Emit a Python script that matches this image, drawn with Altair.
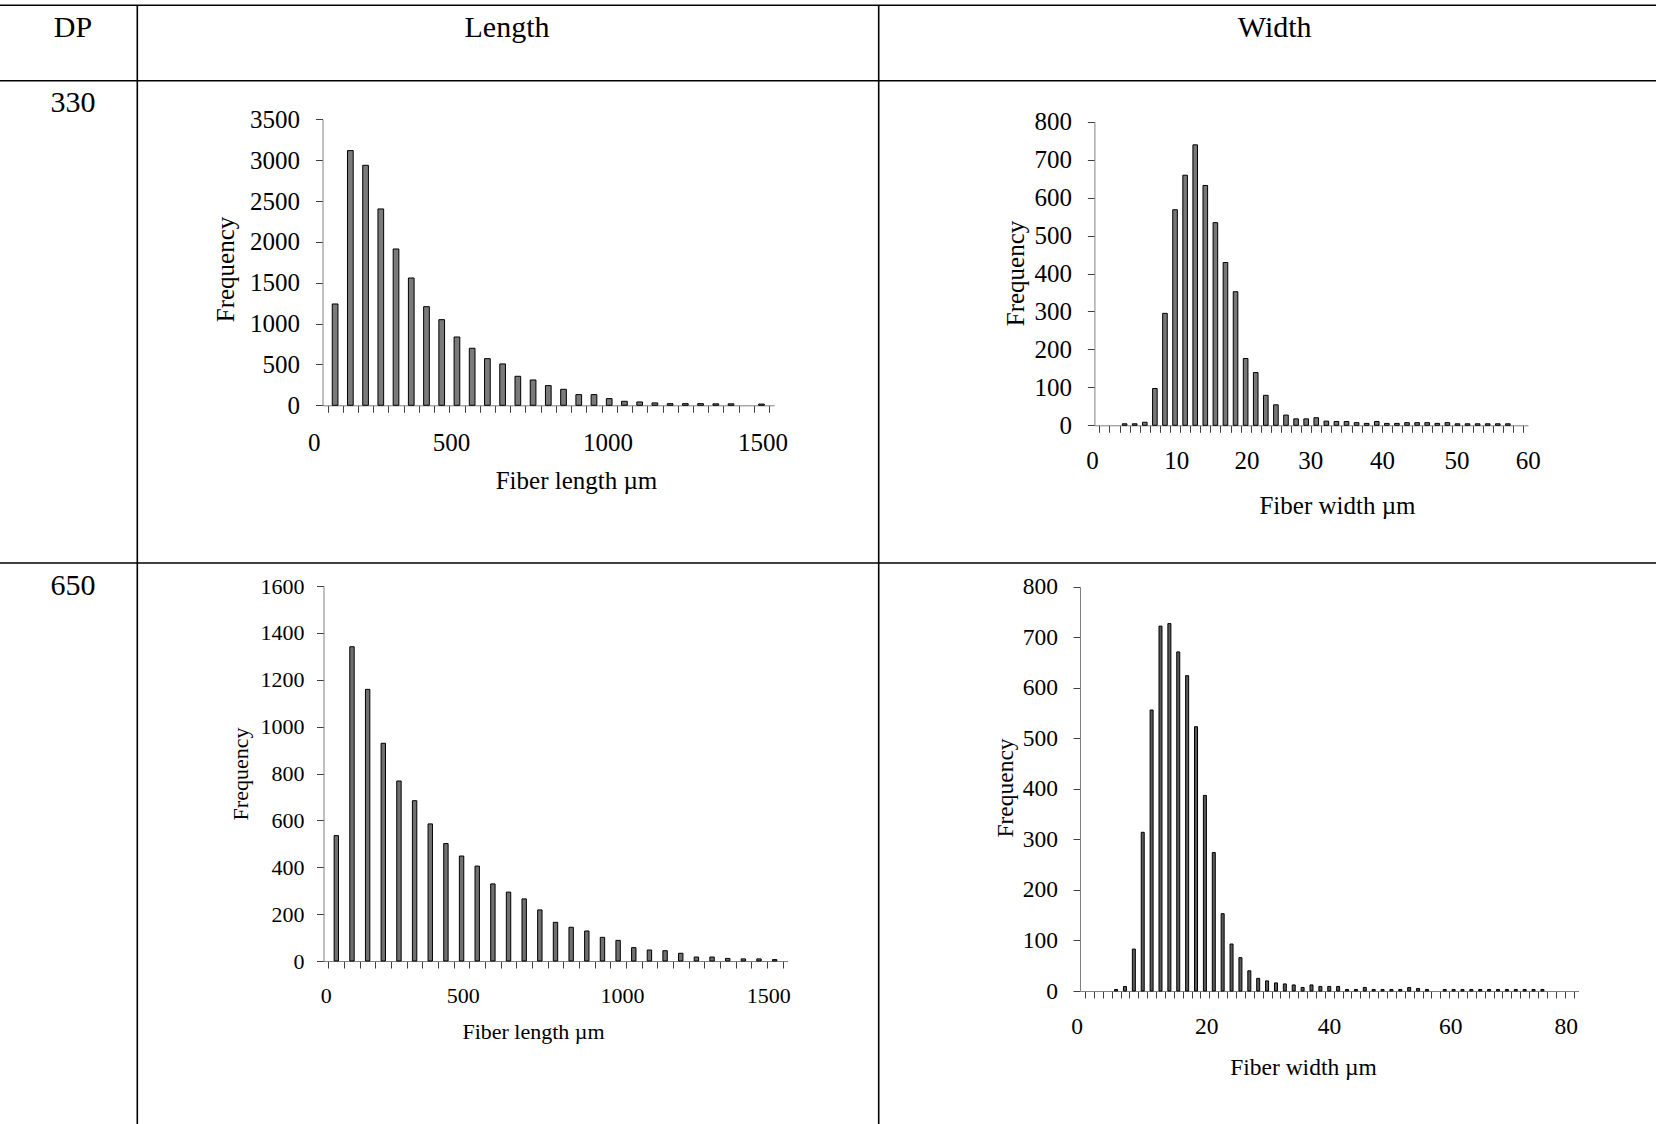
import altair as alt
import pandas as pd

W, H = 1656, 1124
FONT = "Liberation Serif"

# ---------------- data ----------------
# DP 330, fiber length: 50 µm classes
dp330_len_freq = [1240, 3117, 2937, 2403, 1913, 1558, 1207, 1048, 836, 698,
                  571, 506, 355, 310, 241, 196, 131, 131, 82, 49,
                  41, 29, 20, 20, 20, 18, 18, 0, 15]
# DP 330, fiber width
dp330_wid_freq = [0, 0, 4, 4, 8, 97, 295, 568, 659, 739,
                  632, 534, 429, 352, 176, 139, 79, 54, 27, 17,
                  17, 20, 11, 10, 10, 7, 5, 10, 5, 5,
                  7, 7, 7, 5, 7, 4, 4, 4, 4, 4,
                  4, 0]
# DP 650, fiber length
dp650_len_freq = [535, 1341, 1159, 929, 768, 684, 585, 501, 448, 405,
                  329, 294, 265, 218, 165, 144, 128, 101, 88, 57,
                  47, 44, 33, 17, 17, 11, 9, 9, 6]
# DP 650, fiber width
dp650_wid_freq = [0, 0, 0, 3, 9, 83, 314, 556, 722, 727,
                  671, 624, 523, 387, 274, 153, 93, 66, 40, 25,
                  20, 16, 14, 12, 7, 12, 9, 9, 9, 3,
                  3, 7, 3, 3, 3, 3, 7, 5, 3, 0,
                  3, 3, 3, 3, 3, 3, 3, 3, 3, 3,
                  3, 3, 0, 0, 0]

len_ticks = [0, 500, 1000, 1500]
wid330_ticks = [0, 10, 20, 30, 40, 50, 60]
wid650_ticks = [0, 20, 40, 60, 80]

table_headers = ["DP", "Length", "Width"]
dp_values = ["330", "650"]

# ---------------- helpers ----------------
DOMAIN_COLOR = "#808080"
TICK_COLOR = "#404040"


def histogram(freq, x_rng, y_rng, y_vals, lab_vals, lab_pos, lab_pad,
              x_title, title_x, title_y, y_title_x, y_title_y,
              fs, bar_w, fill, ylab_pad):
    n = len(freq)
    df = pd.DataFrame({"bin": list(range(n)), "freq": freq})
    df["mid"] = df["bin"] + 0.5
    off_bottom = y_rng[0] - H
    off_left = -x_rng[0]

    bars = alt.Chart(df).transform_filter("datum.freq > 0").mark_bar(
        width=bar_w, fill=fill, stroke="black", strokeWidth=1
    ).encode(
        x=alt.X("mid:Q",
                scale=alt.Scale(domain=[0, n], range=list(x_rng), nice=False, zero=False),
                axis=alt.Axis(orient="bottom", offset=off_bottom,
                              values=list(range(n + 1)), labels=False, title=None,
                              grid=False, domainColor=DOMAIN_COLOR, tickColor=TICK_COLOR,
                              tickSize=7, domainWidth=1, tickWidth=1)),
        y=alt.Y("freq:Q",
                scale=alt.Scale(domain=[0, y_vals[-1]], range=list(y_rng), nice=False, zero=True),
                axis=alt.Axis(orient="left", offset=off_left, values=y_vals, format="d",
                              grid=False, domainColor=DOMAIN_COLOR, tickColor=TICK_COLOR,
                              tickSize=7, domainWidth=1, tickWidth=1,
                              labelFont=FONT, labelFontSize=fs, labelColor="black",
                              labelPadding=ylab_pad,
                              title="Frequency", titleFont=FONT, titleFontSize=fs,
                              titleFontWeight="normal", titleColor="black",
                              titleAngle=270, titleAlign="center",
                              titleBaseline="alphabetic",
                              titleX=y_title_x, titleY=y_title_y)),
    )

    # tick labels sit where the reference prints them (piecewise-linear label scale)
    ldf = pd.DataFrame({"v": lab_vals})
    labels = alt.Chart(ldf).mark_point(opacity=0).encode(
        x=alt.X("v:Q",
                scale=alt.Scale(domain=list(lab_vals), range=list(lab_pos),
                                nice=False, zero=False),
                axis=alt.Axis(orient="bottom", offset=off_bottom, values=lab_vals,
                              format="d", domain=False, ticks=False, tickSize=0, grid=False,
                              labelFont=FONT, labelFontSize=fs, labelColor="black",
                              labelPadding=lab_pad, labelBaseline="alphabetic",
                              labelFlush=False, labelOverlap=False,
                              title=x_title, titleFont=FONT, titleFontSize=fs,
                              titleFontWeight="normal", titleColor="black",
                              titleAlign="center", titleBaseline="alphabetic",
                              titleX=title_x, titleY=title_y)),
        y=alt.value(0),
    )
    return alt.layer(bars, labels).resolve_scale(x="independent").resolve_axis(x="independent")


h1 = histogram(dp330_len_freq, (322.5, 774.1), (405.3, 119.3),
               [0, 500, 1000, 1500, 2000, 2500, 3000, 3500],
               len_ticks, (313.8, 450.9, 607.6, 762.6), 45,
               "Fiber length µm", 576, 83, -89, 269,
               25, 5.7, "#7a7a7a", 16)

h2 = histogram(dp330_wid_freq, (1094.4, 1528.0), (425.3, 121.7),
               [0, 100, 200, 300, 400, 500, 600, 700, 800],
               wid330_ticks, (1092.0, 1176.2, 1246.5, 1310.2, 1382.0, 1456.4, 1527.7), 43,
               "Fiber width µm", 1337, 88, -71, 273,
               25, 4.6, "#777777", 16)

h3 = histogram(dp650_len_freq, (323.5, 787.5), (961, 586),
               [0, 200, 400, 600, 800, 1000, 1200, 1400, 1600],
               len_ticks, (325.8, 462.8, 622.0, 768.2), 41,
               "Fiber length µm", 533, 77, -76.4, 773.5,
               22, 4.4, "#707070", 12.5)

h4 = histogram(dp650_wid_freq, (1080, 1578.5), (991, 586.7),
               [0, 100, 200, 300, 400, 500, 600, 700, 800],
               wid650_ticks, (1076.5, 1206.2, 1328.9, 1450.3, 1565.7), 42,
               "Fiber width µm", 1303, 83, -67.4, 787.5,
               23.5, 3.0, "#5a5a5a", 15.5)

# ---------------- table frame ----------------
lines = pd.DataFrame({
    "x": [0, 0, 0, 137.3, 878.7],
    "x2": [W, W, W, 137.3, 878.7],
    "y": [5.3, 80.8, 563, 5.3, 5.3],
    "y2": [5.3, 80.8, 563, H, H],
})
rules = alt.Chart(lines).mark_rule(color="black", strokeWidth=1.6).encode(
    x=alt.X("x:Q", scale=None, axis=None), x2="x2:Q",
    y=alt.Y("y:Q", scale=None, axis=None), y2="y2:Q",
)

cells = pd.DataFrame({
    "text": table_headers + dp_values,
    "x": [72.9, 507, 1274.7, 72.9, 72.9],
    "y": [37, 37, 37, 112, 594.6],
})
texts = alt.Chart(cells).mark_text(
    font=FONT, fontSize=30, align="center", baseline="alphabetic", color="black"
).encode(
    x=alt.X("x:Q", scale=None, axis=None),
    y=alt.Y("y:Q", scale=None, axis=None),
    text="text:N",
)

chart = alt.layer(rules, texts, h1, h2, h3, h4).resolve_scale(
    x="independent", y="independent"
).resolve_axis(
    x="independent", y="independent"
).properties(
    width=W, height=H, padding=0,
    autosize=alt.AutoSizeParams(type="none"),
    background="white",
).configure_view(stroke=None)

chart.save("out.html", embed_options={"renderer": "svg", "actions": False})
